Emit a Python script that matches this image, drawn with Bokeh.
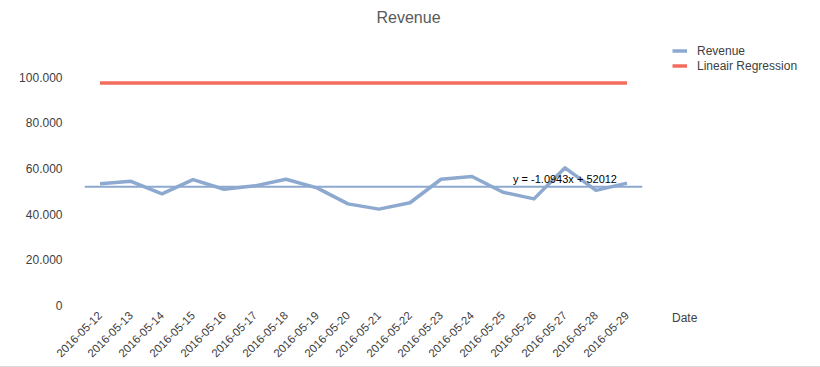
import math
from bokeh.plotting import figure
from bokeh.models import FactorRange, Range1d, Span, FixedTicker, Legend, LegendItem
from bokeh.core.properties import value
from bokeh.embed import file_html
from bokeh.resources import INLINE

# ---- data ----
dates = ["2016-05-12", "2016-05-13", "2016-05-14", "2016-05-15", "2016-05-16",
         "2016-05-17", "2016-05-18", "2016-05-19", "2016-05-20", "2016-05-21",
         "2016-05-22", "2016-05-23", "2016-05-24", "2016-05-25", "2016-05-26",
         "2016-05-27", "2016-05-28", "2016-05-29"]
revenue = [53300, 54400, 48900, 55100, 50900, 52400, 55300, 51500, 44500,
           42200, 45000, 55300, 56500, 49600, 46700, 60300, 50400, 53600]
regression = [97500, 97500, 97500, 97500, 97500, 97500, 97500, 97500, 97500,
              97500, 97500, 97500, 97500, 97500, 97500, 97500, 97500, 97500]
trend_slope = -1.0943
trend_intercept = 52012
trend_text = "y = -1.0943x + 52012"
y_ticks = [0, 20000, 40000, 60000, 80000, 100000]
y_tick_labels = ["0", "20.000", "40.000", "60.000", "80.000", "100.000"]
title_text = "Revenue"
x_title = "Date"

BLUE = "#8DA9CF"
RED = "#F26D5E"
FONT = "Liberation Sans"
TXT = "#404040"

p = figure(x_range=FactorRange(factors=dates, range_padding=0),
           y_range=Range1d(0, 120000),
           frame_width=558, frame_height=274,
           min_border_left=84, min_border_right=176,
           min_border_top=31, min_border_bottom=61,
           output_backend="svg", toolbar_location=None)
p.outline_line_color = None
p.xgrid.visible = False
p.ygrid.visible = False
p.background_fill_color = "white"
p.border_fill_color = "white"
p.styles = {"border-right": "1px solid #D9D9D9", "border-bottom": "1px solid #D9D9D9"}

# title
p.title.text = title_text
p.title.align = "left"
p.title.offset = 292
p.title.text_font = FONT
p.title.text_font_size = "16px"
p.title.text_font_style = "normal"
p.title.text_color = "#595959"
p.title.vertical_align = "middle"

# axes
p.yaxis.ticker = FixedTicker(ticks=y_ticks)
p.yaxis.major_label_overrides = {t: l for t, l in zip(y_ticks, y_tick_labels)}
p.yaxis.axis_line_color = None
p.yaxis.major_tick_line_color = None
p.yaxis.minor_tick_line_color = None
p.yaxis.major_tick_out = 0
p.yaxis.major_label_standoff = 22
p.yaxis.major_label_text_font = FONT
p.yaxis.major_label_text_font_size = "12px"
p.yaxis.major_label_text_color = TXT

p.xaxis.axis_line_color = None
p.xaxis.major_tick_line_color = None
p.xaxis.major_tick_out = 0
p.xaxis.major_label_orientation = math.pi / 4
p.xaxis.major_label_standoff = 8
p.xaxis.major_label_text_font = FONT
p.xaxis.major_label_text_font_size = "11.5px"
p.xaxis.major_label_text_color = TXT

# trend line
p.add_layout(Span(location=trend_intercept, dimension="width",
                  line_color=BLUE, line_width=2))

# series
r_reg = p.line(dates, regression, line_color=RED, line_width=3.5)
r_rev = p.line(dates, revenue, line_color=BLUE, line_width=3.5, line_join="round")

p.text(x=[dates[15]], y=[trend_intercept], text=[trend_text],
       text_font=value(FONT), text_font_size="11px", text_color="black",
       text_align="center", text_baseline="middle", y_offset=-8)

# legend (with the x-axis name "Date" as its title, placed below the items)
lg = Legend(items=[LegendItem(label="Revenue", renderers=[r_rev]),
                   LegendItem(label="Lineair Regression", renderers=[r_reg])],
            location=(30, -20), padding=0, margin=0, spacing=0,
            border_line_color=None, background_fill_alpha=0,
            glyph_width=15, glyph_height=15, label_height=15, label_standoff=10,
            label_text_font=FONT, label_text_font_size="12px", label_text_color=TXT,
            title=x_title, title_location="below", title_standoff=238,
            title_text_font=FONT, title_text_font_size="12px",
            title_text_font_style="normal", title_text_color=TXT)
p.add_layout(lg, "right")

open("out.html", "w").write(file_html(p, INLINE))
